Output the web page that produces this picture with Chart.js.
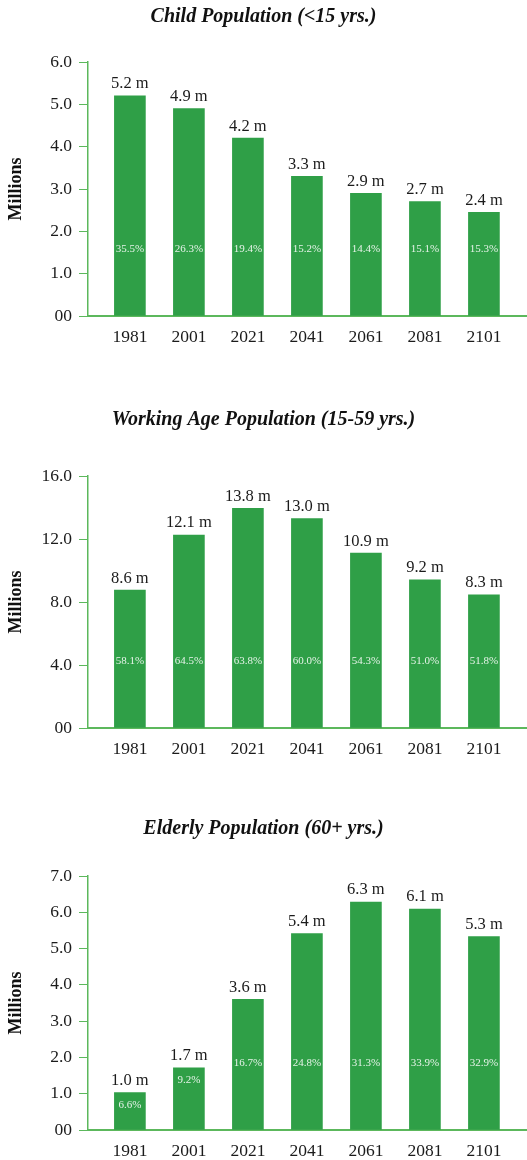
<!DOCTYPE html>
<html>
<head>
<meta charset="utf-8">
<script src="https://cdn.jsdelivr.net/npm/chart.js@4.4.0/dist/chart.umd.min.js"></script>
<style>
  body{margin:0;background:#fff;width:527px;height:1160px;position:relative;overflow:hidden;}
  .box{position:absolute;left:0;width:527px;}
</style>
</head>
<body>
<div class="box" style="top:0;height:380px"><canvas id="child"></canvas></div>
<div class="box" style="top:390px;height:390px"><canvas id="working"></canvas></div>
<div class="box" style="top:790px;height:370px"><canvas id="elderly"></canvas></div>
<script>
const years = ["1981","2001","2021","2041","2061","2081","2101"];

const childValues = [5.2, 4.9, 4.2, 3.3, 2.9, 2.7, 2.45];
const childLabels = ["5.2 m","4.9 m","4.2 m","3.3 m","2.9 m","2.7 m","2.4 m"];
const childShares = ["35.5%","26.3%","19.4%","15.2%","14.4%","15.1%","15.3%"];
const childTicks = ["00","1.0","2.0","3.0","4.0","5.0","6.0"];

const workValues = [8.75, 12.25, 13.95, 13.3, 11.1, 9.4, 8.45];
const workLabels = ["8.6 m","12.1 m","13.8 m","13.0 m","10.9 m","9.2 m","8.3 m"];
const workShares = ["58.1%","64.5%","63.8%","60.0%","54.3%","51.0%","51.8%"];
const workTicks = ["00","4.0","8.0","12.0","16.0"];

const oldValues = [1.03, 1.71, 3.6, 5.41, 6.28, 6.09, 5.33];
const oldLabels = ["1.0 m","1.7 m","3.6 m","5.4 m","6.3 m","6.1 m","5.3 m"];
const oldShares = ["6.6%","9.2%","16.7%","24.8%","31.3%","33.9%","32.9%"];
const oldTicks = ["00","1.0","2.0","3.0","4.0","5.0","6.0","7.0"];

const barGreen = "#2f9f47";
const axisGreen = "#5cb85c";
const serif = "'Liberation Serif', 'DejaVu Serif', serif";

const barText = {
  id: "barText",
  afterDatasetsDraw(chart, args, opts){
    const ctx = chart.ctx;
    const meta = chart.getDatasetMeta(0);
    ctx.save();
    ctx.textAlign = "center";
    ctx.textBaseline = "middle";
    meta.data.forEach((bar, i) => {
      ctx.fillStyle = "#1b1b1b";
      ctx.font = "16.5px " + serif;
      ctx.fillText(opts.values[i], bar.x, bar.y - 12);
      ctx.fillStyle = "rgba(255,255,255,0.88)";
      ctx.font = "11px " + serif;
      ctx.fillText(opts.shares[i], bar.x, Math.max(bar.base - 66, bar.y + 12));
    });
    ctx.restore();
  }
};

function makeChart(id, title, values, labels, shares, ticks, yMax, step, titlePad, xHeight){
  new Chart(document.getElementById(id), {
    type: "bar",
    data: {
      datasets: [{
        data: values.map((v, i) => ({x: i, y: v})),
        backgroundColor: barGreen,
        barThickness: 31
      }]
    },
    options: {
      responsive: true,
      maintainAspectRatio: false,
      animation: false,
      layout: {padding: {top: 0, right: 0, bottom: 0, left: 0}},
      plugins: {
        legend: {display: false},
        tooltip: {enabled: false},
        title: {
          display: true,
          text: title,
          color: "#111",
          font: {family: serif, size: 20, style: "italic", weight: "bold", lineHeight: 1.2},
          padding: titlePad
        },
        barText: {values: labels, shares: shares}
      },
      scales: {
        x: {
          type: "linear",
          min: -0.71,
          max: 6.73,
          offset: false,
          grid: {display: false, drawTicks: false, offset: false},
          border: {display: true, color: axisGreen, width: 2},
          afterBuildTicks: s => { s.ticks = years.map((_, i) => ({value: i})); },
          afterFit: s => { s.height = xHeight; },
          ticks: {
            padding: 11,
            color: "#1b1b1b",
            font: {family: serif, size: 17.5},
            callback: v => years[Math.round(v)]
          }
        },
        y: {
          min: 0,
          max: yMax,
          afterFit: s => { s.width = 88; },
          grid: {display: true, drawOnChartArea: false, drawTicks: true, tickLength: 9, color: axisGreen, lineWidth: 1},
          border: {display: true, color: axisGreen, width: 1.5},
          ticks: {
            stepSize: step,
            padding: 7,
            color: "#1b1b1b",
            font: {family: serif, size: 17.5},
            callback: (v, i) => ticks[i]
          },
          title: {
            display: true,
            text: "Millions",
            color: "#111",
            font: {family: serif, size: 18, weight: "bold"},
            padding: {top: 6, bottom: 0}
          }
        }
      }
    },
    plugins: [barText]
  });
}

makeChart("child", "Child Population (<15 yrs.)", childValues, childLabels, childShares, childTicks, 6, 1, {top: 5, bottom: 33}, 64);
makeChart("working", "Working Age Population (15-59 yrs.)", workValues, workLabels, workShares, workTicks, 16, 4, {top: 18, bottom: 44}, 52);
makeChart("elderly", "Elderly Population (60+ yrs.)", oldValues, oldLabels, oldShares, oldTicks, 7, 1, {top: 27, bottom: 35}, 30);
</script>
</body>
</html>
